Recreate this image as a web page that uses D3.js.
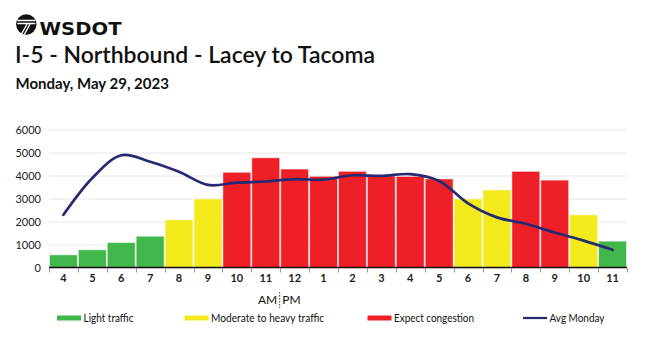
<!DOCTYPE html>
<html>
<head>
<meta charset="utf-8">
<script src="https://cdn.jsdelivr.net/npm/d3@7"></script>
<style>
  html, body { margin: 0; padding: 0; background: #fff; }
  svg { display: block; font-family: Lato, "Open Sans", sans-serif; }
</style>
</head>
<body>
<svg id="chart" width="650" height="338"></svg>
<script>
// ---- data ----
const hourLabels = ["4","5","6","7","8","9","10","11","12","1","2","3","4","5","6","7","8","9","10","11"];
const volumes = [550, 770, 1085, 1360, 2070, 2980, 4140, 4770, 4280, 3965, 4180, 3980, 3960, 3850, 2980, 3370, 4180, 3800, 2290, 1145];
const avgMonday = [2290, 3890, 4880, 4600, 4160, 3590, 3690, 3740, 3840, 3820, 4010, 3980, 4060, 3760, 2790, 2180, 1900, 1520, 1170, 770];
const trafficLevels = ["light","light","light","light","moderate","moderate","congestion","congestion","congestion","congestion","congestion","congestion","congestion","congestion","moderate","moderate","congestion","congestion","moderate","light"];
const yTicks = [0, 1000, 2000, 3000, 4000, 5000, 6000];
const legendItems = [
  {key: "light", label: "Light traffic"},
  {key: "moderate", label: "Moderate to heavy traffic"},
  {key: "congestion", label: "Expect congestion"},
  {key: "avg", label: "Avg Monday"}
];
const colors = {light: "#41b64b", moderate: "#f3ea1c", congestion: "#ee1f27", avg: "#262a72"};

// ---- layout ----
const svg = d3.select("#chart");
const plotLeft = 49, plotRight = 627, plotTop = 129.5, plotBottom = 267.5;

const x = d3.scaleBand().domain(d3.range(hourLabels.length)).range([plotLeft, plotRight]).paddingInner(0.035).paddingOuter(0.0175);
const xEdge = d3.scaleLinear().domain([0, hourLabels.length]).range([plotLeft, plotRight]);
const y = d3.scaleLinear().domain([0, 6000]).range([plotBottom, plotTop]);

// ---- header ----
const logo = svg.append("g").attr("transform", "translate(26.3,24.5)");
logo.append("circle").attr("r", 10.2).attr("fill", "#111");
logo.append("path").attr("d", "M-9,-4 L9,-4 M-9,-1 L9,-1").attr("stroke", "#fff").attr("stroke-width", 1.3);
logo.append("path").attr("d", "M1,-1 L-5,10 M4,-1 L-2,10").attr("stroke", "#fff").attr("stroke-width", 1.4);
svg.append("text").attr("x", 39.5).attr("y", 35).attr("font-family", "'DejaVu Sans', sans-serif")
  .attr("font-weight", 900).attr("font-size", 17.5).attr("fill", "#111")
  .attr("textLength", 82).attr("lengthAdjust", "spacingAndGlyphs").text("WSDOT");

svg.append("text").attr("x", 15).attr("y", 62.5).attr("font-size", 22.5).attr("font-weight", 600)
  .attr("fill", "#111").attr("textLength", 360).attr("lengthAdjust", "spacingAndGlyphs")
  .text("I-5 - Northbound - Lacey to Tacoma");
svg.append("text").attr("x", 15.5).attr("y", 88.5).attr("font-size", 15).attr("font-weight", 700)
  .attr("fill", "#111").text("Monday, May 29, 2023");

// ---- grid + y axis ----
const yAxis = d3.axisLeft(y).tickValues(yTicks).tickFormat(d3.format("d"))
  .tickSize(-(plotRight - plotLeft)).tickPadding(8);
const yg = svg.append("g").attr("transform", `translate(${plotLeft},0)`).call(yAxis);
yg.select(".domain").remove();
yg.selectAll(".tick line").attr("stroke", "#e6e6e6").attr("stroke-width", 1);
yg.selectAll(".tick text").attr("font-family", "Lato, sans-serif").attr("font-size", 11)
  .attr("fill", "#222").attr("x", -8);

// ---- bars ----
svg.append("g").selectAll("rect").data(volumes).join("rect")
  .attr("x", (d, i) => x(i))
  .attr("y", d => y(d))
  .attr("width", x.bandwidth())
  .attr("height", d => y(0) - y(d))
  .attr("fill", (d, i) => colors[trafficLevels[i]])
  .attr("stroke", "#fff").attr("stroke-opacity", 0.5).attr("stroke-width", 1);

// ---- line ----
const line = d3.line()
  .x((d, i) => x(i) + x.bandwidth() / 2)
  .y(d => y(d))
  .curve(d3.curveCatmullRom.alpha(0.5));
svg.append("path").datum(avgMonday).attr("d", line)
  .attr("fill", "none").attr("stroke", colors.avg).attr("stroke-width", 2.7)
  .attr("stroke-linecap", "round").attr("stroke-linejoin", "round");

// ---- x axis ----
svg.append("line").attr("x1", plotLeft).attr("x2", plotRight).attr("y1", plotBottom).attr("y2", plotBottom)
  .attr("stroke", "#111").attr("stroke-width", 1.3);
svg.append("g").selectAll("line").data(d3.range(hourLabels.length + 1)).join("line")
  .attr("x1", d => Math.round(xEdge(d)) + 0.5).attr("x2", d => Math.round(xEdge(d)) + 0.5)
  .attr("y1", plotBottom + 0.5).attr("y2", plotBottom + 5)
  .attr("stroke", "#999").attr("stroke-width", 1);
const xAxis = d3.axisBottom(x).tickSize(0).tickPadding(0).tickFormat(i => hourLabels[i]);
const xg = svg.append("g").attr("transform", `translate(0,${plotBottom + 7})`).call(xAxis);
xg.select(".domain").remove();
xg.selectAll(".tick text").attr("font-family", "Lato, sans-serif").attr("font-size", 11)
  .attr("font-weight", 700).attr("fill", "#222").attr("dy", "0.71em");

// ---- AM | PM ----
const noonX = xEdge(8) - 0.5;
svg.append("text").attr("x", noonX - 2.5).attr("y", 304).attr("text-anchor", "end")
  .attr("font-size", 12).attr("fill", "#111").text("AM");
svg.append("text").attr("x", noonX + 2.5).attr("y", 304).attr("text-anchor", "start")
  .attr("font-size", 12).attr("fill", "#111").text("PM");
svg.append("line").attr("x1", noonX).attr("x2", noonX).attr("y1", 292).attr("y2", 308)
  .attr("stroke", "#333").attr("stroke-width", 1).attr("stroke-dasharray", "1.5,1.5");

// ---- legend ----
const legendX = [57, 184.5, 367.5, 523];
const legendTextWidth = [50, 113, 80, 55];
const lg = svg.append("g").selectAll("g").data(legendItems).join("g")
  .attr("transform", (d, i) => `translate(${legendX[i]},318)`);
lg.append("line").attr("x1", 0).attr("x2", 24).attr("y1", 0).attr("y2", 0)
  .attr("stroke", d => colors[d.key]).attr("stroke-width", d => d.key === "avg" ? 2.2 : 5);
lg.append("text").attr("x", 26.5).attr("y", 0).attr("dy", "0.35em").attr("font-size", 10.5)
  .attr("fill", "#111")
  .attr("textLength", (d, i) => legendTextWidth[i]).attr("lengthAdjust", "spacingAndGlyphs")
  .text(d => d.label);
</script>
</body>
</html>
